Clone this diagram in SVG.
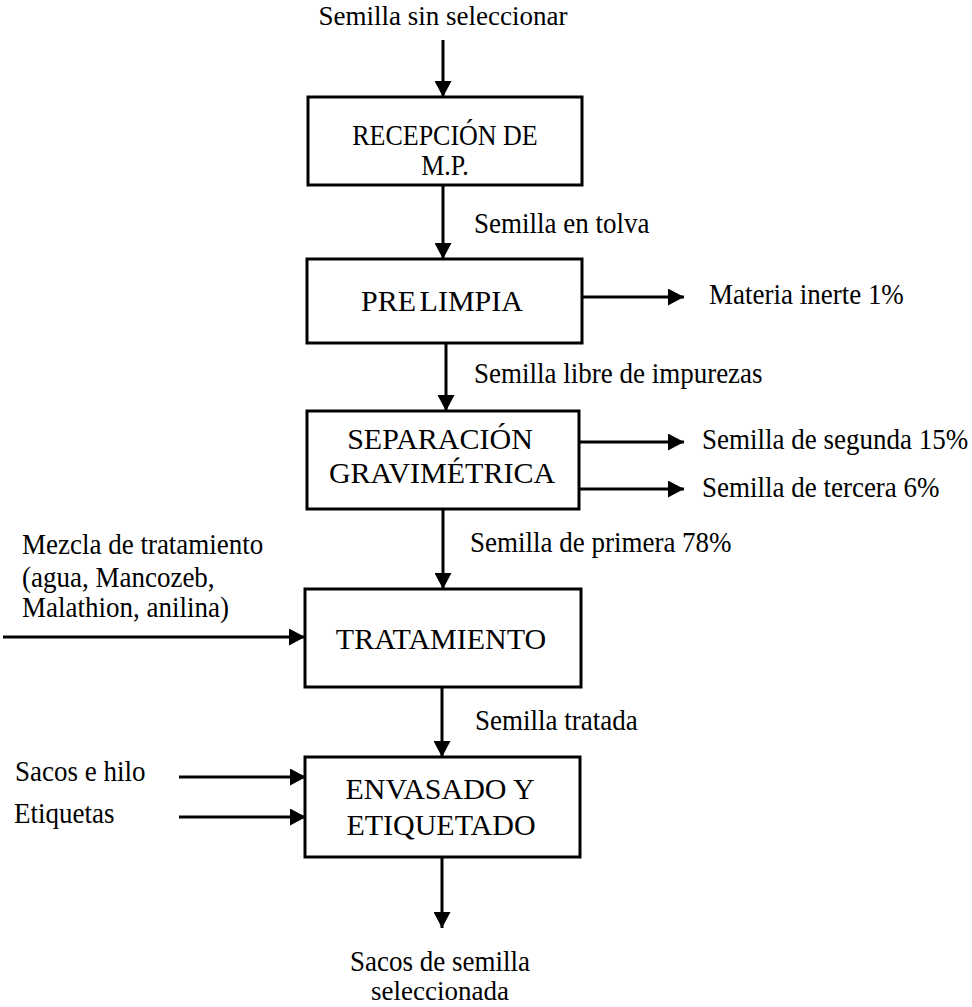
<svg xmlns="http://www.w3.org/2000/svg" width="972" height="1007" viewBox="0 0 972 1007">
<style>
.box{fill:#fff;stroke:#000;stroke-width:3}
.bt{font-family:"Liberation Serif","Times New Roman",serif;font-size:30px;fill:#000;text-anchor:middle}
.lb{font-family:"Liberation Serif","Times New Roman",serif;font-size:27px;fill:#000}
.c{text-anchor:middle}
.ln{stroke:#000;stroke-width:3;fill:none;marker-end:url(#ah)}
</style>
<defs>
<marker id="ah" markerUnits="userSpaceOnUse" markerWidth="17" markerHeight="17" refX="16" refY="8.5" orient="auto">
<path d="M0,0 L16,8.5 L0,17 z" fill="#000"/>
</marker>
</defs>
<rect width="972" height="1007" fill="#fff"/>
<g id="connectors">
<line class="ln" x1="443" y1="40" x2="443" y2="97"/>
<line class="ln" x1="443" y1="185" x2="443" y2="259"/>
<line class="ln" x1="582" y1="297" x2="684" y2="297"/>
<line class="ln" x1="446" y1="343" x2="446" y2="411"/>
<line class="ln" x1="579" y1="442" x2="684" y2="442"/>
<line class="ln" x1="579" y1="489" x2="684" y2="489"/>
<line class="ln" x1="443" y1="509" x2="443" y2="589"/>
<line class="ln" x1="3" y1="637" x2="305" y2="637"/>
<line class="ln" x1="442" y1="687" x2="442" y2="757"/>
<line class="ln" x1="179" y1="777" x2="306" y2="777"/>
<line class="ln" x1="179" y1="817" x2="306" y2="817"/>
<line class="ln" x1="442" y1="857" x2="442" y2="928"/>
</g>
<g id="labels">
<text class="lb c" x="443" y="25">Semilla sin seleccionar</text>
<text class="lb" transform="translate(474,233) scale(1,1.1)">Semilla en tolva</text>
<text class="lb" transform="translate(709,304) scale(1,1.1)">Materia inerte 1%</text>
<text class="lb" transform="translate(474,383) scale(1,1.1)">Semilla libre de impurezas</text>
<text class="lb" transform="translate(702,449) scale(1,1.1)">Semilla de segunda 15%</text>
<text class="lb" transform="translate(702,497) scale(1,1.1)">Semilla de tercera 6%</text>
<text class="lb" transform="translate(470,552) scale(1,1.1)">Semilla de primera 78%</text>
<text class="lb" transform="translate(22,554) scale(1,1.1)">Mezcla de tratamiento</text>
<text class="lb" transform="translate(22,587) scale(1,1.1)">(agua, Mancozeb,</text>
<text class="lb" transform="translate(22,617) scale(1,1.1)">Malathion, anilina)</text>
<text class="lb" transform="translate(475,730) scale(1,1.1)">Semilla tratada</text>
<text class="lb" transform="translate(15,781) scale(1,1.1)">Sacos e hilo</text>
<text class="lb" transform="translate(14,823) scale(1,1.1)">Etiquetas</text>
<text class="lb c" transform="translate(440,971) scale(1,1.1)">Sacos de semilla</text>
<text class="lb c" transform="translate(440,1000) scale(1,1.05)">seleccionada</text>
</g>
<g id="recepcion">
<rect class="box" x="308" y="97" width="274" height="88"/>
<text class="bt" style="font-size:26px" transform="translate(445,145) scale(1,1.15)">RECEPCIÓN DE</text>
<text class="bt" style="font-size:26px" transform="translate(445,175) scale(1,1.15)">M.P.</text>
</g>
<g id="prelimpia">
<rect class="box" x="307" y="259" width="275" height="84"/>
<text class="bt" x="442" y="311" word-spacing="-4">PRE LIMPIA</text>
</g>
<g id="separacion">
<rect class="box" x="307" y="411" width="272" height="98"/>
<text class="bt" x="440" y="449">SEPARACIÓN</text>
<text class="bt" x="442" y="483">GRAVIMÉTRICA</text>
</g>
<g id="tratamiento">
<rect class="box" x="305" y="589" width="276" height="98"/>
<text class="bt" x="441" y="649">TRATAMIENTO</text>
</g>
<g id="envasado">
<rect class="box" x="305" y="757" width="275" height="100"/>
<text class="bt" x="440" y="799">ENVASADO Y</text>
<text class="bt" x="441" y="835">ETIQUETADO</text>
</g>
</svg>
